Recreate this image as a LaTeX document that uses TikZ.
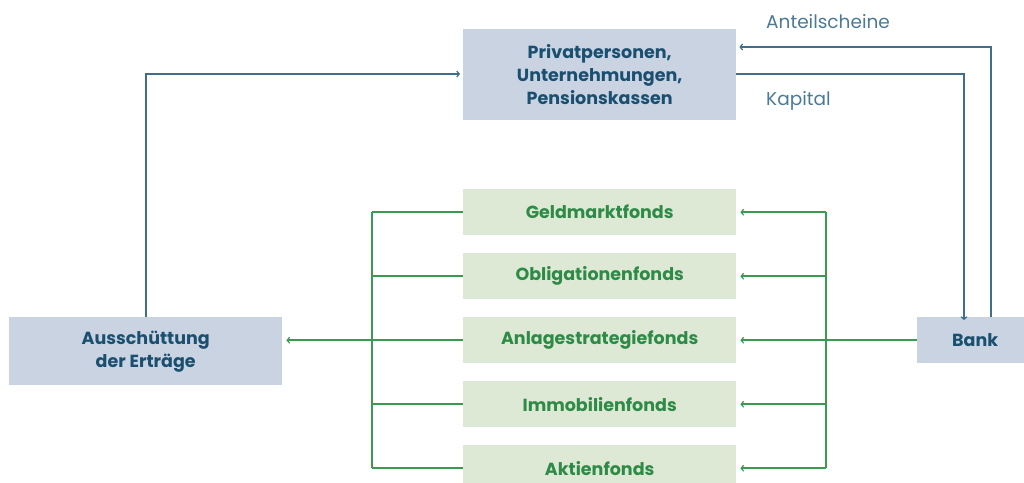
\documentclass[tikz,border=0pt]{standalone}
\usepackage{fontspec}
\setmainfont{Poppins}
\usetikzlibrary{arrows.meta}
\definecolor{bluebox}{HTML}{C9D3E1}
\definecolor{greenbox}{HTML}{DDE8D5}
\definecolor{bluetext}{HTML}{1B4F70}
\definecolor{greentext}{HTML}{2E8B47}
\definecolor{blueline}{HTML}{3F6F8C}
\definecolor{greenline}{HTML}{3A9A52}
\definecolor{labeltext}{HTML}{4A7A96}
\tikzset{
  bbox/.style={fill=bluebox, text=bluetext, font=\bfseries\fontsize{17.5}{23}\selectfont, align=center, inner sep=0pt, anchor=north west},
  gbox/.style={fill=greenbox, text=greentext, font=\bfseries\fontsize{17.5}{23}\selectfont, align=center, inner sep=0pt, anchor=north west, minimum width=273pt, minimum height=46pt},
  bline/.style={draw=blueline, line width=1.5pt},
  gline/.style={draw=greenline, line width=1.5pt},
  tip/.style={-{Straight Barb[length=2.5pt,width=6pt,line width=1.2pt]}},
  lbl/.style={text=labeltext, font=\fontsize{18.5}{22}\selectfont, anchor=west, inner sep=0pt}
}
\begin{document}
\begin{tikzpicture}[x=1pt,y=-1pt]
\useasboundingbox (0,0) rectangle (1024,482);
\begin{scope}
\clip (0,0) rectangle (1024,482);
\node[bbox, minimum width=273pt, minimum height=91pt] (top) at (463,29) {Privatpersonen,\\Unternehmungen,\\Pensionskassen};
\node[gbox] (f1) at (463,189) {Geldmarktfonds};
\node[gbox] (f2) at (463,253) {Obligationenfonds};
\node[gbox] (f3) at (463,317) {Anlagestrategiefonds};
\node[gbox] (f4) at (463,381) {Immobilienfonds};
\node[gbox] (f5) at (463,445) {Aktienfonds};
\node[bbox, minimum width=273pt, minimum height=68pt] (aus) at (9,317) {Ausschüttung\\der Erträge};
\node[bbox, minimum width=116pt, minimum height=46pt] (bank) at (917,317) {Bank};
\end{scope}
\node[lbl] (anteil) at (766,22) {Anteilscheine};
\node[lbl] (kap) at (766,101) {Kapital};
% blue connectors
\coordinate (k1) at (964,74);
\coordinate (a1) at (991,47);
\coordinate (u1) at (146,74);
\draw[bline, tip] (top.east |- k1) -- (k1) -- ([yshift=-3pt]k1 |- bank.north);
\draw[bline, tip] (a1 |- bank.north) -- (a1) -- ([xshift=3pt]top.east |- a1);
\draw[bline, tip] (u1 |- aus.north) -- (u1) -- ([xshift=-3pt]top.west |- u1);
% green connectors
\coordinate (lb) at (372,0);
\coordinate (rb) at (826,0);
\draw[gline] (lb |- f1.west) -- (lb |- f5.west);
\draw[gline] (rb |- f1.east) -- (rb |- f5.east);
\foreach \f in {f1,f2,f4,f5}{
  \draw[gline] (\f.west) -- (lb |- \f.west);
  \draw[gline, tip] (rb |- \f.east) -- ([xshift=4pt]\f.east);
}
\draw[gline, tip] (f3.west) -- ([xshift=4pt]aus.east |- f3.west);
\draw[gline, tip] (bank.west) -- ([xshift=4pt]f3.east);
\end{tikzpicture}
\end{document}
